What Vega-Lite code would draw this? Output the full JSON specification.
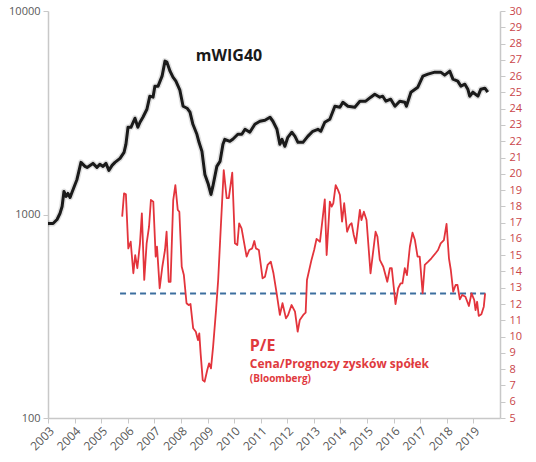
{
  "$schema": "https://vega.github.io/schema/vega-lite/v6.json",
  "width": 452,
  "height": 407,
  "autosize": {"type": "none"},
  "padding": {"left": 48, "top": 11, "right": 36, "bottom": 44},
  "background": "white",
  "datasets": {
    "mwig": [
      {"year": 2003.00, "v": 903}, {"year": 2003.19, "v": 903}, {"year": 2003.34, "v": 945}, {"year": 2003.45, "v": 1011},
      {"year": 2003.53, "v": 1095}, {"year": 2003.60, "v": 1298}, {"year": 2003.68, "v": 1226}, {"year": 2003.75, "v": 1269},
      {"year": 2003.83, "v": 1213}, {"year": 2003.90, "v": 1284}, {"year": 2004.09, "v": 1487}, {"year": 2004.24, "v": 1804},
      {"year": 2004.39, "v": 1724}, {"year": 2004.47, "v": 1704}, {"year": 2004.58, "v": 1743}, {"year": 2004.69, "v": 1783},
      {"year": 2004.84, "v": 1704}, {"year": 2004.95, "v": 1763}, {"year": 2005.07, "v": 1724}, {"year": 2005.18, "v": 1783},
      {"year": 2005.29, "v": 1647}, {"year": 2005.41, "v": 1743}, {"year": 2005.52, "v": 1804}, {"year": 2005.71, "v": 1888},
      {"year": 2005.86, "v": 2021}, {"year": 2005.93, "v": 2212}, {"year": 2006.01, "v": 2683}, {"year": 2006.12, "v": 2683},
      {"year": 2006.27, "v": 2972}, {"year": 2006.38, "v": 2683}, {"year": 2006.46, "v": 2840}, {"year": 2006.57, "v": 3005},
      {"year": 2006.72, "v": 3290}, {"year": 2006.83, "v": 3814}, {"year": 2006.95, "v": 3771}, {"year": 2007.02, "v": 4272},
      {"year": 2007.14, "v": 4272}, {"year": 2007.29, "v": 4784}, {"year": 2007.40, "v": 5673}, {"year": 2007.47, "v": 5609},
      {"year": 2007.59, "v": 5063}, {"year": 2007.70, "v": 4730}, {"year": 2007.81, "v": 4521}, {"year": 2007.96, "v": 4082},
      {"year": 2008.08, "v": 3404}, {"year": 2008.23, "v": 3328}, {"year": 2008.34, "v": 3181}, {"year": 2008.45, "v": 2775},
      {"year": 2008.60, "v": 2478}, {"year": 2008.68, "v": 2263}, {"year": 2008.79, "v": 2043}, {"year": 2008.90, "v": 1574},
      {"year": 2009.02, "v": 1421}, {"year": 2009.13, "v": 1255}, {"year": 2009.20, "v": 1374}, {"year": 2009.35, "v": 1724},
      {"year": 2009.47, "v": 1824}, {"year": 2009.58, "v": 2212}, {"year": 2009.65, "v": 2342}, {"year": 2009.84, "v": 2289},
      {"year": 2009.95, "v": 2342}, {"year": 2010.14, "v": 2478}, {"year": 2010.29, "v": 2478}, {"year": 2010.41, "v": 2623},
      {"year": 2010.59, "v": 2535}, {"year": 2010.78, "v": 2775}, {"year": 2010.97, "v": 2872}, {"year": 2011.16, "v": 2905},
      {"year": 2011.35, "v": 3005}, {"year": 2011.46, "v": 2872}, {"year": 2011.61, "v": 2623}, {"year": 2011.72, "v": 2212},
      {"year": 2011.80, "v": 2342}, {"year": 2011.91, "v": 2163}, {"year": 2012.02, "v": 2395}, {"year": 2012.17, "v": 2535},
      {"year": 2012.29, "v": 2422}, {"year": 2012.40, "v": 2263}, {"year": 2012.59, "v": 2263}, {"year": 2012.77, "v": 2422},
      {"year": 2012.96, "v": 2564}, {"year": 2013.15, "v": 2623}, {"year": 2013.26, "v": 2564}, {"year": 2013.41, "v": 2840},
      {"year": 2013.60, "v": 2938}, {"year": 2013.79, "v": 3404}, {"year": 2013.98, "v": 3366}, {"year": 2014.09, "v": 3563},
      {"year": 2014.28, "v": 3404}, {"year": 2014.54, "v": 3366}, {"year": 2014.73, "v": 3604}, {"year": 2014.95, "v": 3604},
      {"year": 2015.14, "v": 3771}, {"year": 2015.29, "v": 3901}, {"year": 2015.48, "v": 3771}, {"year": 2015.59, "v": 3814},
      {"year": 2015.71, "v": 3604}, {"year": 2015.89, "v": 3686}, {"year": 2016.05, "v": 3404}, {"year": 2016.23, "v": 3604},
      {"year": 2016.42, "v": 3563}, {"year": 2016.48, "v": 3404}, {"year": 2016.65, "v": 3990}, {"year": 2016.91, "v": 4223},
      {"year": 2017.10, "v": 4784}, {"year": 2017.29, "v": 4894}, {"year": 2017.55, "v": 5007}, {"year": 2017.77, "v": 5007},
      {"year": 2017.92, "v": 4839}, {"year": 2018.11, "v": 5063}, {"year": 2018.23, "v": 4624}, {"year": 2018.41, "v": 4521},
      {"year": 2018.53, "v": 4272}, {"year": 2018.68, "v": 4369}, {"year": 2018.79, "v": 4129}, {"year": 2018.86, "v": 3814},
      {"year": 2018.98, "v": 3990}, {"year": 2019.17, "v": 3814}, {"year": 2019.28, "v": 4129}, {"year": 2019.43, "v": 4176},
      {"year": 2019.54, "v": 3990}
    ],
    "pe": [
      {"year": 2005.79, "pe": 17.37}, {"year": 2005.86, "pe": 18.80}, {"year": 2005.93, "pe": 18.74}, {"year": 2006.02, "pe": 15.42},
      {"year": 2006.11, "pe": 15.83}, {"year": 2006.21, "pe": 13.89}, {"year": 2006.28, "pe": 15.01}, {"year": 2006.36, "pe": 14.20},
      {"year": 2006.46, "pe": 15.73}, {"year": 2006.53, "pe": 17.57}, {"year": 2006.62, "pe": 13.48}, {"year": 2006.71, "pe": 15.73},
      {"year": 2006.80, "pe": 16.75}, {"year": 2006.87, "pe": 18.39}, {"year": 2006.96, "pe": 18.29}, {"year": 2007.05, "pe": 14.91},
      {"year": 2007.10, "pe": 15.52}, {"year": 2007.20, "pe": 12.97}, {"year": 2007.30, "pe": 14.29}, {"year": 2007.40, "pe": 15.32},
      {"year": 2007.46, "pe": 16.44}, {"year": 2007.54, "pe": 13.37}, {"year": 2007.61, "pe": 13.37}, {"year": 2007.71, "pe": 18.39},
      {"year": 2007.79, "pe": 19.31}, {"year": 2007.88, "pe": 17.78}, {"year": 2007.94, "pe": 17.67}, {"year": 2008.03, "pe": 14.29},
      {"year": 2008.11, "pe": 13.78}, {"year": 2008.21, "pe": 12.05}, {"year": 2008.29, "pe": 11.94}, {"year": 2008.36, "pe": 12.00},
      {"year": 2008.46, "pe": 10.51}, {"year": 2008.56, "pe": 10.30}, {"year": 2008.64, "pe": 9.79}, {"year": 2008.69, "pe": 10.20},
      {"year": 2008.74, "pe": 8.97}, {"year": 2008.82, "pe": 7.33}, {"year": 2008.89, "pe": 7.23}, {"year": 2008.99, "pe": 7.95},
      {"year": 2009.06, "pe": 8.36}, {"year": 2009.13, "pe": 8.05}, {"year": 2009.21, "pe": 9.38}, {"year": 2009.32, "pe": 11.63},
      {"year": 2009.40, "pe": 13.48}, {"year": 2009.50, "pe": 16.75}, {"year": 2009.61, "pe": 20.23}, {"year": 2009.72, "pe": 18.50},
      {"year": 2009.80, "pe": 18.50}, {"year": 2009.93, "pe": 20.07}, {"year": 2010.03, "pe": 15.73}, {"year": 2010.12, "pe": 15.63},
      {"year": 2010.19, "pe": 16.96}, {"year": 2010.28, "pe": 16.65}, {"year": 2010.47, "pe": 14.91}, {"year": 2010.57, "pe": 15.32},
      {"year": 2010.68, "pe": 15.42}, {"year": 2010.76, "pe": 15.87}, {"year": 2010.82, "pe": 15.42}, {"year": 2010.93, "pe": 15.32},
      {"year": 2011.07, "pe": 13.58}, {"year": 2011.16, "pe": 13.68}, {"year": 2011.26, "pe": 14.40}, {"year": 2011.38, "pe": 14.60},
      {"year": 2011.48, "pe": 13.89}, {"year": 2011.60, "pe": 12.66}, {"year": 2011.72, "pe": 11.33}, {"year": 2011.82, "pe": 12.05},
      {"year": 2011.95, "pe": 11.12}, {"year": 2012.03, "pe": 11.33}, {"year": 2012.16, "pe": 11.94}, {"year": 2012.29, "pe": 11.53},
      {"year": 2012.39, "pe": 10.30}, {"year": 2012.47, "pe": 11.02}, {"year": 2012.60, "pe": 11.33}, {"year": 2012.69, "pe": 11.47},
      {"year": 2012.74, "pe": 13.48}, {"year": 2012.91, "pe": 14.71}, {"year": 2013.01, "pe": 15.32}, {"year": 2013.10, "pe": 16.00},
      {"year": 2013.23, "pe": 15.83}, {"year": 2013.41, "pe": 18.43}, {"year": 2013.48, "pe": 15.01}, {"year": 2013.60, "pe": 18.29},
      {"year": 2013.67, "pe": 17.98}, {"year": 2013.73, "pe": 18.19}, {"year": 2013.82, "pe": 19.31}, {"year": 2013.91, "pe": 19.00},
      {"year": 2013.98, "pe": 18.70}, {"year": 2014.06, "pe": 17.06}, {"year": 2014.14, "pe": 18.19}, {"year": 2014.25, "pe": 16.44},
      {"year": 2014.35, "pe": 16.86}, {"year": 2014.42, "pe": 16.96}, {"year": 2014.50, "pe": 16.24}, {"year": 2014.58, "pe": 15.73},
      {"year": 2014.73, "pe": 17.78}, {"year": 2014.79, "pe": 17.16}, {"year": 2014.88, "pe": 17.67}, {"year": 2014.98, "pe": 17.16},
      {"year": 2015.13, "pe": 13.89}, {"year": 2015.32, "pe": 16.44}, {"year": 2015.39, "pe": 16.14}, {"year": 2015.48, "pe": 14.71},
      {"year": 2015.61, "pe": 14.29}, {"year": 2015.76, "pe": 13.37}, {"year": 2015.86, "pe": 14.20}, {"year": 2015.93, "pe": 14.20},
      {"year": 2016.07, "pe": 12.00}, {"year": 2016.17, "pe": 12.97}, {"year": 2016.26, "pe": 13.27}, {"year": 2016.33, "pe": 13.27},
      {"year": 2016.42, "pe": 14.20}, {"year": 2016.50, "pe": 13.78}, {"year": 2016.61, "pe": 15.52}, {"year": 2016.71, "pe": 16.38},
      {"year": 2016.80, "pe": 15.93}, {"year": 2016.90, "pe": 14.91}, {"year": 2016.98, "pe": 14.91}, {"year": 2017.09, "pe": 12.66},
      {"year": 2017.17, "pe": 14.40}, {"year": 2017.30, "pe": 14.60}, {"year": 2017.42, "pe": 14.81}, {"year": 2017.59, "pe": 15.15},
      {"year": 2017.67, "pe": 15.32}, {"year": 2017.77, "pe": 15.73}, {"year": 2017.89, "pe": 15.93}, {"year": 2017.99, "pe": 16.92},
      {"year": 2018.08, "pe": 14.81}, {"year": 2018.15, "pe": 14.09}, {"year": 2018.24, "pe": 12.76}, {"year": 2018.33, "pe": 13.17},
      {"year": 2018.40, "pe": 13.17}, {"year": 2018.49, "pe": 12.29}, {"year": 2018.58, "pe": 12.56}, {"year": 2018.70, "pe": 12.45},
      {"year": 2018.83, "pe": 11.88}, {"year": 2018.93, "pe": 12.66}, {"year": 2019.03, "pe": 12.25}, {"year": 2019.08, "pe": 11.63},
      {"year": 2019.14, "pe": 12.14}, {"year": 2019.20, "pe": 11.27}, {"year": 2019.30, "pe": 11.37}, {"year": 2019.39, "pe": 11.84},
      {"year": 2019.44, "pe": 12.66}
    ],
    "avg": [
      {"year": 2005.71, "pe": 12.65},
      {"year": 2019.45, "pe": 12.65}
    ],
    "pelabels": [
      {"year": 2010.59, "pe": 9.12, "text": "P/E", "size": 16},
      {"year": 2010.59, "pe": 8.07, "text": "Cena/Prognozy zysków spółek", "size": 12},
      {"year": 2010.59, "pe": 7.21, "text": "(Bloomberg)", "size": 10}
    ],
    "mlabel": [
      {"year": 2008.56, "v": 5673, "text": "mWIG40"}
    ]
  },
  "encoding": {
    "x": {
      "field": "year",
      "type": "quantitative",
      "scale": {"domain": [2003, 2020], "nice": false, "zero": false},
      "axis": {
        "values": [2003, 2004, 2005, 2006, 2007, 2008, 2009, 2010, 2011, 2012, 2013, 2014, 2015, 2016, 2017, 2018, 2019],
        "format": "d",
        "labelAngle": -45,
        "labelOverlap": false,
        "grid": false,
        "title": null,
        "domainColor": "#c8c8c8",
        "domainWidth": 1.5,
        "tickColor": "#c8c8c8",
        "tickSize": 5,
        "labelColor": "#595959",
        "labelFont": "Open Sans",
        "labelFontSize": 12,
        "labelPadding": 2
      }
    }
  },
  "layer": [
    {
      "encoding": {
        "y": {
          "field": "v",
          "type": "quantitative",
          "scale": {"type": "log", "domain": [100, 10000], "nice": false},
          "axis": {
            "orient": "left",
            "values": [100, 1000, 10000],
            "format": "d",
            "labelOverlap": false,
            "grid": false,
            "title": null,
            "domainColor": "#c8c8c8",
            "domainWidth": 1.5,
            "tickColor": "#c8c8c8",
            "tickSize": 5,
            "labelColor": "#595959",
            "labelFont": "Open Sans",
            "labelFontSize": 11,
            "labelPadding": 3
          }
        }
      },
      "layer": [
        {
          "data": {"name": "mwig"},
          "mark": {"type": "line", "stroke": "#000000", "strokeWidth": 6, "opacity": 0.12, "strokeJoin": "round"}
        },
        {
          "data": {"name": "mwig"},
          "mark": {"type": "line", "stroke": "#1a1a1a", "strokeWidth": 3, "strokeJoin": "round"}
        },
        {
          "data": {"name": "mlabel"},
          "mark": {"type": "text", "align": "left", "baseline": "alphabetic", "font": "Open Sans", "fontWeight": "bold", "fontSize": 16, "color": "#1a1a1a"},
          "encoding": {
            "text": {"field": "text"}
          }
        }
      ]
    },
    {
      "encoding": {
        "y": {
          "field": "pe",
          "type": "quantitative",
          "scale": {"domain": [5, 30], "nice": false, "zero": false},
          "axis": {
            "orient": "right",
            "values": [5, 6, 7, 8, 9, 10, 11, 12, 13, 14, 15, 16, 17, 18, 19, 20, 21, 22, 23, 24, 25, 26, 27, 28, 29, 30],
            "labelOverlap": false,
            "grid": false,
            "title": null,
            "domainColor": "#c8c8c8",
            "domainWidth": 1.5,
            "tickColor": "#c8c8c8",
            "tickSize": 5,
            "labelColor": "#c9454a",
            "labelFont": "Open Sans",
            "labelFontSize": 11,
            "labelPadding": 4
          }
        }
      },
      "layer": [
        {
          "data": {"name": "avg"},
          "mark": {"type": "line", "stroke": "#3d6f9f", "strokeWidth": 2, "strokeDash": [6, 4]}
        },
        {
          "data": {"name": "pe"},
          "mark": {"type": "line", "stroke": "#e3343c", "strokeWidth": 1.8, "strokeJoin": "round"}
        },
        {
          "data": {"name": "pelabels"},
          "mark": {"type": "text", "align": "left", "baseline": "alphabetic", "font": "Open Sans", "fontWeight": "bold", "color": "#e03a3e"},
          "encoding": {
            "text": {"field": "text"},
            "size": {"field": "size", "type": "quantitative", "scale": null, "legend": null}
          }
        }
      ]
    }
  ],
  "resolve": {"scale": {"y": "independent"}},
  "config": {
    "view": {"stroke": null}
  }
}
